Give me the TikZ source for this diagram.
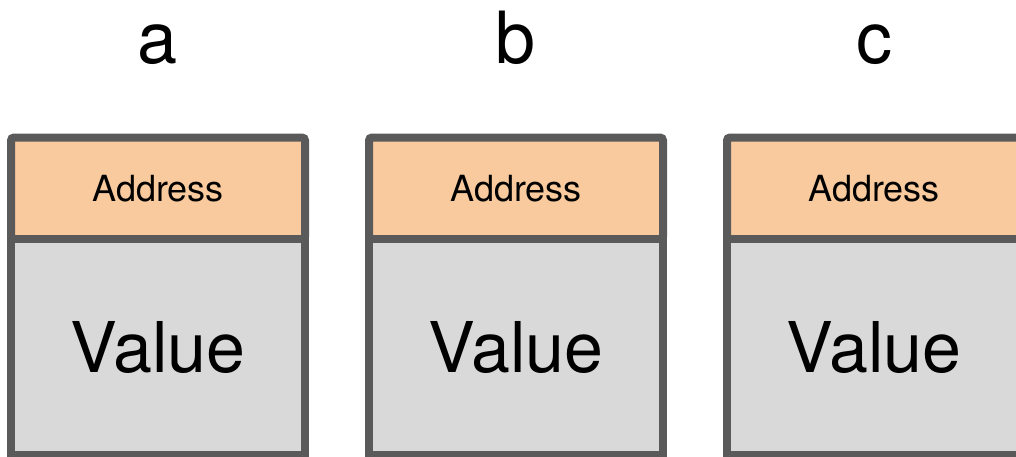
\documentclass[tikz,border=0pt]{standalone}
\usepackage{fontspec}
\setmainfont{TeX Gyre Heros}
\usetikzlibrary{positioning}

\definecolor{cellline}{HTML}{5A5A5A}
\definecolor{addrfill}{HTML}{F8CA9E}
\definecolor{valfill}{HTML}{D9D9D9}

\begin{document}
\begin{tikzpicture}[x=1pt, y=-1pt,
    addr/.style={rectangle, draw=cellline, line width=8pt, fill=addrfill, rounded corners=3pt, minimum width=294pt, minimum height=101.5pt, inner sep=0pt, outer sep=0pt, font=\fontsize{36}{40}\selectfont},
    val/.style={rectangle, draw=cellline, line width=8pt, fill=valfill, minimum width=294pt, minimum height=216pt, inner sep=0pt, outer sep=0pt, font=\fontsize{70}{74}\selectfont},
    lbl/.style={anchor=base, inner sep=0pt, font=\fontsize{72}{76}\selectfont}
]
    \useasboundingbox (0,0) rectangle (1016,456);
    % one memory cell per variable
    \foreach \name [count=\i from 0] in {a,b,c} {
        \node[addr] (addr-\name) at (158+358*\i, 188.25) {Address};
        \node[val, below=0pt of addr-\name] (val-\name) {Value};
        \node[lbl] (lbl-\name) at (158+358*\i, 63) {\name};
    }
\end{tikzpicture}
\end{document}
